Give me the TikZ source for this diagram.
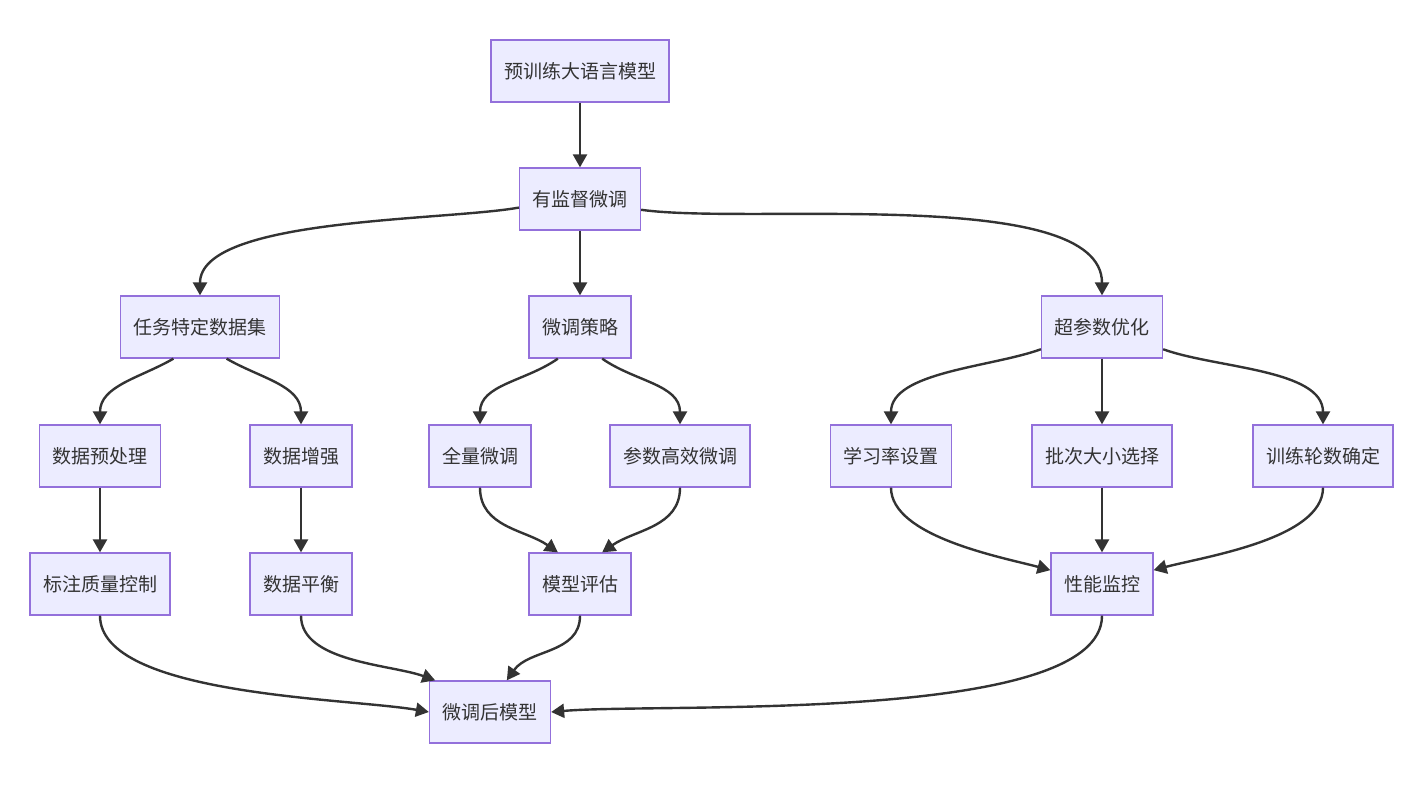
\documentclass[tikz,border=0pt]{standalone}
\usepackage{fontspec}
\setmainfont{Noto Sans CJK SC}
\usetikzlibrary{arrows.meta,positioning}
\definecolor{boxfill}{HTML}{ECECFF}
\definecolor{boxline}{HTML}{9370DB}
\definecolor{edge}{HTML}{333333}
\tikzset{box/.style={draw=boxline, fill=boxfill, line width=1.3pt, minimum height=62pt, inner xsep=13pt, text=edge, font=\fontsize{19}{22}\selectfont}}
\tikzset{arr/.style={draw=edge, line width=2.4pt, -{Triangle[length=13pt,width=14pt]}}}
\begin{document}
\begin{tikzpicture}[x=1pt,y=-1pt]
	\useasboundingbox (0,0) rectangle (1426,800);
	\node[box] (pre) at (580,71){预训练大语言模型};
	\node[box] (sup) at (580,199){有监督微调};
	\node[box] (task) at (200,327){任务特定数据集};
	\node[box] (strat) at (580,327){微调策略};
	\node[box] (hyper) at (1102,327){超参数优化};
	
	\node[box] (prep) at (100,456){数据预处理};
	\node[box] (aug) at (301,456){数据增强};
	\node[box] (full) at (480,456){全量微调};
	\node[box] (peft) at (680,456){参数高效微调};
	\node[box] (lr) at (891,456){学习率设置};
	\node[box] (batch) at (1102,456){批次大小选择};
	\node[box] (epoch) at (1323,456){训练轮数确定};
	
	\node[box] (qual) at (100,584){标注质量控制};
	\node[box] (bal) at (301,584){数据平衡};
	\node[box] (eval) at (580,584){模型评估};
	\node[box] (mon) at (1102,584){性能监控};
	
	\node[box] (final) at (490,712){微调后模型};
	
	\draw[arr] (pre) -- (sup);
	\draw[arr] (sup.-172) to[out=190, in=90, looseness=0.6] (task.north);
	\draw[arr] (sup) -- (strat);
	\draw[arr] (sup.-10) to[out=-8, in=90, looseness=0.6] (hyper.north);
	
	\draw[arr] (task.-130) to[out=-150, in=90] (prep.north);
	\draw[arr] (task.-50) to[out=-30, in=90] (aug.north);
	\draw[arr] (strat.-125) to[out=-145, in=90] (full.north);
	\draw[arr] (strat.-55) to[out=-35, in=90] (peft.north);
	\draw[arr] (hyper.-160) to[out=-160, in=90, looseness=0.8] (lr.north);
	\draw[arr] (hyper) -- (batch);
	\draw[arr] (hyper.-20) to[out=-20, in=90, looseness=0.8] (epoch.north);
	
	\draw[arr] (prep) -- (qual);
	\draw[arr] (aug) -- (bal);
	\draw[arr] (full.south) to[out=-90, in=145] (eval.125);
	\draw[arr] (peft.south) to[out=-90, in=35] (eval.55);
	\draw[arr] (lr.south) to[out=-90, in=165, looseness=0.7] (mon.165);
	\draw[arr] (batch) -- (mon);
	\draw[arr] (epoch.south) to[out=-90, in=15, looseness=0.7] (mon.15);
	
	\draw[arr] (qual.south) to[out=-90, in=170, looseness=0.6] (final.west);
	\draw[arr] (bal.south) to[out=-90, in=160, looseness=0.8] (final.150);
	\draw[arr] (eval.south) to[out=-90, in=55] (final.62);
	\draw[arr] (mon.south) to[out=-90, in=5, looseness=0.5] (final.east);
\end{tikzpicture}
\end{document}
